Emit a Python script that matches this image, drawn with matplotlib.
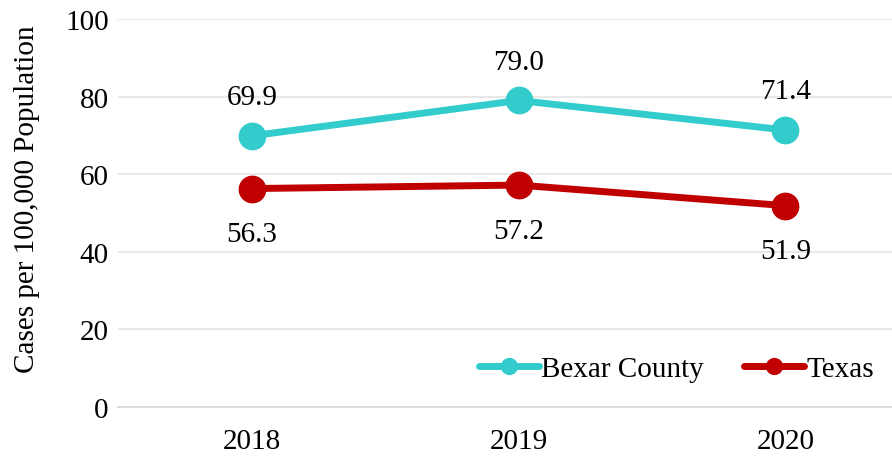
import matplotlib
matplotlib.use("Agg")
import matplotlib.pyplot as plt

years = ["2018", "2019", "2020"]
bexar = [69.9, 79.0, 71.4]
texas = [56.3, 57.2, 51.9]
yticks = [0, 20, 40, 60, 80, 100]

plt.rcParams['font.family'] = ['Liberation Serif', 'DejaVu Serif']

fig = plt.figure(figsize=(8.92, 4.60), dpi=100)
ax = fig.add_axes([0.132, 0.113, 0.868, 0.8435])

x = list(range(len(years)))
cyan = "#33CCCC"
red = "#C00000"
ax.plot(x, bexar, color=cyan, lw=5, marker='o', ms=19, solid_capstyle='round', label="Bexar County", zorder=3)
ax.plot(x, texas, color=red, lw=5, marker='o', ms=19, solid_capstyle='round', label="Texas", zorder=3)

FS = 21
for xi, v in zip(x, bexar):
    ax.annotate(f"{v:.1f}", (xi, v), xytext=(0, 28), textcoords='offset points',
                ha='center', va='center', fontsize=FS)
for xi, v in zip(x, texas):
    ax.annotate(f"{v:.1f}", (xi, v), xytext=(0, -33), textcoords='offset points',
                ha='center', va='center', fontsize=FS)

ax.set_ylim(0, 100)
ax.set_xlim(-0.503, 2.4)
ax.set_yticks(yticks)
ax.set_xticks(x)
ax.set_xticklabels(years)
ax.tick_params(axis='both', length=0, labelsize=FS)
ax.tick_params(axis='y', pad=6.5)
ax.tick_params(axis='x', pad=15)
ax.grid(axis='y', color='#e6e6e6', lw=1.3)
ax.set_axisbelow(True)
for s in ['top', 'right', 'left']:
    ax.spines[s].set_visible(False)
ax.spines['bottom'].set_color('#d9d9d9')
ax.spines['bottom'].set_linewidth(1.3)

ax.set_ylabel("Cases per 100,000 Population", fontsize=FS)
ax.yaxis.set_label_coords(-0.101, 0.539)

leg = ax.legend(loc='lower right', ncol=2, frameon=False, fontsize=FS,
                handlelength=2.05, columnspacing=1.37, handletextpad=0.1,
                markerscale=0.6, bbox_to_anchor=(1.0, 0.02), borderaxespad=0.2)

fig.savefig("out.png", dpi=100)
